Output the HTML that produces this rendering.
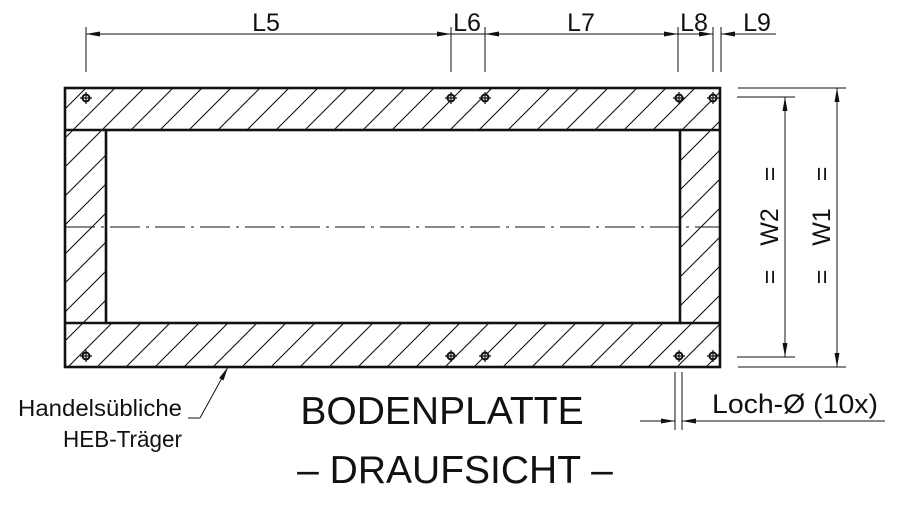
<!DOCTYPE html>
<html><head><meta charset="utf-8"><style>
html,body{margin:0;padding:0;background:#fff;}
svg{display:block;}
text{font-family:"Liberation Sans",sans-serif;fill:#111;}
</style></head><body>
<svg width="900" height="507" viewBox="0 0 900 507" xmlns="http://www.w3.org/2000/svg">
<defs>
<pattern id="h" patternUnits="userSpaceOnUse" width="29" height="29">
<line x1="0" y1="29" x2="29" y2="0" stroke="#111" stroke-width="1.1"/>
<line x1="-1" y1="1" x2="1" y2="-1" stroke="#111" stroke-width="1.1"/>
<line x1="28" y1="30" x2="30" y2="28" stroke="#111" stroke-width="1.1"/>
</pattern>
<marker id="a" markerWidth="14" markerHeight="6" refX="14" refY="3" orient="auto" markerUnits="userSpaceOnUse"><path d="M0,0.5 L14,3 L0,5.5z" fill="#111"/></marker>
<marker id="s" markerWidth="14" markerHeight="6" refX="0" refY="3" orient="auto" markerUnits="userSpaceOnUse"><path d="M14,0.5 L0,3 L14,5.5z" fill="#111"/></marker>
</defs>
<path d="M65,88 H720 V367 H65 Z M106,130 V323 H680 V130 Z" fill="url(#h)" fill-rule="evenodd"/>
<g fill="none" stroke="#111" stroke-width="2.6">
<rect x="65" y="88" width="655" height="279"/>
<rect x="106" y="130" width="574" height="193"/>
<line x1="65" y1="130" x2="106" y2="130"/><line x1="680" y1="130" x2="720" y2="130"/>
<line x1="65" y1="323" x2="106" y2="323"/><line x1="680" y1="323" x2="720" y2="323"/>
</g>
<line x1="65" y1="227" x2="720" y2="227" stroke="#111" stroke-width="1" stroke-dasharray="30,6,3,6"/>
<g fill="#fff" stroke="#111" stroke-width="2">
<circle cx="86" cy="98" r="3.5"/><circle cx="451" cy="98" r="3.5"/><circle cx="485" cy="98" r="3.5"/><circle cx="679" cy="98" r="3.5"/><circle cx="713" cy="98" r="3.5"/>
<circle cx="86" cy="356" r="3.5"/><circle cx="451" cy="356" r="3.5"/><circle cx="485" cy="356" r="3.5"/><circle cx="679" cy="356" r="3.5"/><circle cx="713" cy="356" r="3.5"/>
</g>
<g stroke="#111" stroke-width="1.2">
<path d="M80,98h12M86,92v12M445,98h12M451,92v12M479,98h12M485,92v12M673,98h12M679,92v12M707,98h12M713,92v12"/>
<path d="M80,356h12M86,350v12M445,356h12M451,350v12M479,356h12M485,350v12M673,356h12M679,350v12M707,356h12M713,350v12"/>
</g>
<g stroke="#111" stroke-width="1" fill="none">
<path d="M86,27V72M451,27V72M485,27V72M678,27V72M713,27V72M721,27V72"/>
<line x1="86" y1="34" x2="451" y2="34" marker-start="url(#s)" marker-end="url(#a)"/>
<line x1="485" y1="34" x2="678" y2="34" marker-start="url(#s)" marker-end="url(#a)"/>
<line x1="451" y1="34" x2="485" y2="34"/>
<line x1="678" y1="34" x2="713" y2="34" marker-end="url(#a)"/>
<line x1="740" y1="34" x2="721" y2="34" marker-end="url(#a)"/>
<line x1="740" y1="34" x2="776" y2="34"/>
</g>
<g font-size="25">
<text x="266" y="31" text-anchor="middle">L5</text>
<text x="467" y="31" text-anchor="middle">L6</text>
<text x="581" y="31" text-anchor="middle">L7</text>
<text x="694" y="31" text-anchor="middle">L8</text>
<text x="757" y="31" text-anchor="middle">L9</text>
</g>
<g stroke="#111" stroke-width="1" fill="none">
<path d="M738,88H846M737,97H795M737,357H795M738,367H846"/>
<line x1="785" y1="97" x2="785" y2="357" marker-start="url(#s)" marker-end="url(#a)"/>
<line x1="837" y1="88" x2="837" y2="367" marker-start="url(#s)" marker-end="url(#a)"/>
</g>
<g font-size="25">
<text transform="translate(778,227) rotate(-90)" text-anchor="middle">W2</text>
<text transform="translate(830,227) rotate(-90)" text-anchor="middle">W1</text>
<text transform="translate(778,174) rotate(-90)" text-anchor="middle">=</text>
<text transform="translate(778,277) rotate(-90)" text-anchor="middle">=</text>
<text transform="translate(830,174) rotate(-90)" text-anchor="middle">=</text>
<text transform="translate(830,277) rotate(-90)" text-anchor="middle">=</text>
</g>
<g stroke="#111" stroke-width="1" fill="none">
<path d="M675,372V430M682,372V430"/>
<line x1="640" y1="421" x2="675" y2="421" marker-end="url(#a)"/>
<line x1="700" y1="421" x2="682" y2="421" marker-end="url(#a)"/>
<line x1="700" y1="421" x2="885" y2="421"/>
</g>
<text x="712" y="413" font-size="27" textLength="166" lengthAdjust="spacingAndGlyphs">Loch-Ø (10x)</text>
<g stroke="#111" stroke-width="1" fill="none">
<line x1="200" y1="418" x2="228" y2="367" marker-end="url(#a)"/>
<line x1="188" y1="418" x2="200" y2="418"/>
</g>
<text x="18" y="416" font-size="23" textLength="164" lengthAdjust="spacingAndGlyphs">Handelsübliche</text>
<text x="63" y="447" font-size="23" textLength="119" lengthAdjust="spacingAndGlyphs">HEB-Träger</text>
<text x="442" y="424" font-size="39" text-anchor="middle">BODENPLATTE</text>
<text x="455" y="483" font-size="39" text-anchor="middle">– DRAUFSICHT –</text>
</svg>
</body></html>
